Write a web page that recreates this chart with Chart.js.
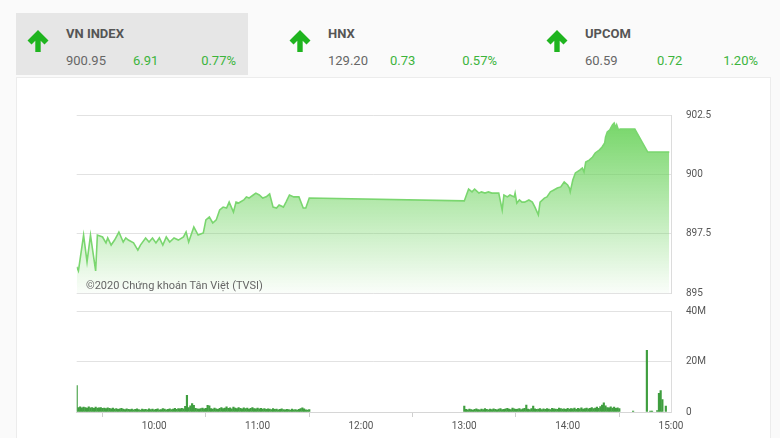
<!DOCTYPE html>
<html>
<head>
<meta charset="utf-8">
<script src="https://cdn.jsdelivr.net/npm/chart.js@4"></script>
<style>
  body { margin: 0; background: #fafafa; font-family: Roboto, "Noto Sans", sans-serif; }
  #wrap { position: relative; width: 780px; height: 438px; overflow: hidden; }
  .box { position: absolute; top: 13px; height: 62px; }
  .box.active { background: #e6e6e6; }
  .arrow { position: absolute; top: 29px; width: 24px; height: 24px; }
  .txt { position: absolute; font-size: 13px; line-height: 13px; white-space: nowrap; }
  .title { font-weight: bold; color: #555; top: 27px; }
  .num { color: #666; top: 54px; }
  .up { color: #3cb43c; top: 54px; }
  #panel { position: absolute; left: 16px; top: 77px; width: 753px; height: 370px; background: #fff; border: 1px solid #ececec; }
  canvas { position: absolute; left: 0; }
  #mark { position: absolute; left: 86px; top: 279px; font-size: 11px; line-height: 13px; color: #666; }
</style>
</head>
<body>
<div id="wrap">
  <div class="box active" style="left:16px;width:232px"></div>
  <div id="panel"></div>
  <div id="header"></div>
  <canvas id="indexChart" width="780" height="320" style="top:0"></canvas>
  <canvas id="volumeChart" width="780" height="148" style="top:290px"></canvas>
  <div id="mark">©2020 Chứng khoán Tân Việt (TVSI)</div>
</div>
<script>
// header quotes
const quoteNames = ['VN INDEX', 'HNX', 'UPCOM'];
const quoteLast = ['900.95', '129.20', '60.59'];
const quoteChange = ['6.91', '0.73', '0.72'];
const quotePct = ['0.77%', '0.57%', '1.20%'];

// index line (time, points)
const indexTimes = [
    '09:15', '09:16', '09:19', '09:21', '09:23', '09:26', '09:27', '09:30', '09:32', '09:33',
    '09:35', '09:37', '09:39:30', '09:42', '09:43:30', '09:45', '09:48', '09:50:30', '09:52', '09:55',
    '09:57', '09:59', '10:01', '10:03', '10:05', '10:07', '10:09', '10:11:30', '10:14', '10:17',
    '10:18:30', '10:20', '10:23', '10:25:30', '10:28:30', '10:30', '10:32', '10:34', '10:36', '10:38',
    '10:40', '10:42', '10:43:30', '10:46', '10:47:30', '10:49', '10:52', '10:53:30', '10:55', '10:57:30',
    '10:59', '11:01', '11:03', '11:05', '11:07', '11:09', '11:11', '11:12:30', '11:15', '11:16:30',
    '11:18:30', '11:21', '11:22:30', '11:24', '11:26:30', '11:28', '11:30',
    '13:00', '13:02:30', '13:04:30', '13:06', '13:08:30', '13:10', '13:12', '13:14', '13:16', '13:18',
    '13:20', '13:22', '13:23', '13:25', '13:26:30', '13:29', '13:29:30', '13:30:30', '13:32', '13:33:30',
    '13:35', '13:37:30', '13:39:30', '13:41', '13:43', '13:44', '13:46:30', '13:48', '13:50', '13:52',
    '13:54', '13:56', '13:58', '14:00', '14:01', '14:01:30', '14:03', '14:04:30', '14:07', '14:08:30',
    '14:09:30', '14:10:30', '14:12:30', '14:14:30', '14:16', '14:18:30', '14:20', '14:21:30', '14:22', '14:23',
    '14:24:30', '14:25', '14:26', '14:27', '14:28', '14:28:30', '14:29:30', '14:30:30', '14:39', '14:46:30',
    '14:59'
];
const indexValues = [
    896.10, 895.93, 897.44, 896.31, 897.44, 895.93, 897.44, 897.36, 897.11, 897.32,
    897.02, 897.23, 897.57, 897.15, 897.32, 897.23, 897.11, 896.81, 897.02, 897.32,
    897.15, 897.32, 897.11, 897.32, 897.02, 897.36, 897.15, 897.32, 897.23, 897.36,
    897.57, 897.15, 897.78, 897.44, 897.53, 898.08, 898.20, 897.95, 898.08, 898.50,
    898.62, 898.58, 898.83, 898.41, 898.83, 898.79, 898.92, 899.05, 899.00, 899.13,
    899.21, 899.13, 899.00, 899.05, 899.17, 898.62, 898.58, 898.71, 898.62, 898.83,
    899.13, 899.05, 899.05, 899.05, 898.58, 898.58, 899.00,
    898.88, 899.38, 899.26, 899.38, 899.21, 899.26, 899.21, 899.26, 899.21, 899.21,
    899.21, 898.50, 899.13, 899.05, 899.13, 899.05, 899.21, 898.79, 898.92, 898.83,
    898.83, 898.92, 898.83, 898.62, 898.29, 898.83, 899.00, 899.05, 899.26, 899.34,
    899.42, 899.47, 899.68, 899.55, 899.42, 899.26, 899.76, 900.06, 900.18, 900.27,
    900.10, 900.52, 900.60, 900.73, 900.90, 901.03, 901.15, 901.32, 901.57, 901.78,
    901.87, 901.95, 902.08, 902.16, 901.95, 902.08, 901.87, 901.91, 901.91, 900.94,
    900.94
];

// volume, millions per minute
const amStart = '09:15';
const amVolume = [
    10.5,
    1.8, 2.0, 1.7, 1.9, 1.8, 1.6, 2.0, 1.7, 1.8, 1.5, 1.9, 1.6, 1.7, 1.8, 1.5,
    1.6, 1.4, 1.7, 1.5, 1.3, 1.6, 1.2, 1.4, 1.1, 1.3, 1.5, 1.2, 1.0, 1.3, 1.1,
    1.0, 1.2, 0.9, 1.1, 1.3, 1.0, 0.8, 1.2, 1.0, 1.1, 0.9, 1.3, 1.0, 1.2, 0.9,
    1.1, 1.3, 0.9, 1.0, 1.4, 1.2, 0.9, 1.1, 1.3, 1.0, 1.2, 1.5, 1.1, 1.4, 1.3,
    1.5, 1.3, 2.2, 6.6, 1.8, 2.4, 3.3, 2.6, 1.5, 1.3, 1.2, 1.4, 1.6, 1.3, 1.5,
    2.6, 2.4, 1.4, 1.2, 1.6, 1.3, 1.1, 1.5, 1.8, 1.4, 1.6, 2.0, 1.5, 1.7, 1.3,
    1.9, 1.6, 1.4, 1.8, 1.5, 1.3, 1.7, 1.4, 1.6, 1.2, 1.5, 1.8, 1.4, 1.3, 1.6,
    1.3, 1.5, 1.2, 1.4, 1.1, 1.3, 1.2, 1.0, 1.4, 1.1, 1.2, 0.9, 1.1, 1.3, 1.0,
    0.9, 1.1, 1.0, 0.8, 1.2, 0.9, 1.0, 0.8, 1.1, 1.4, 1.7, 1.3, 0.9, 0.8, 1.0
];
const pmStart = '13:00';
const pmVolume = [
    2.3,
    1.1, 0.9, 1.2, 1.0, 0.8, 1.1, 1.3, 1.0, 0.9, 1.2, 1.0, 1.4, 1.1, 0.9, 1.2,
    1.0, 1.3, 1.1, 0.9, 1.2, 1.4, 1.0, 1.1, 1.3, 1.5, 1.2, 1.0, 1.6, 1.3, 1.1,
    1.2, 1.4, 1.0, 1.3, 1.5, 2.7, 1.2, 1.0, 1.4, 2.3, 1.3, 1.1, 1.2, 1.4, 1.0,
    1.3, 1.1, 1.4, 1.2, 1.0, 1.5, 1.3, 1.2, 1.1, 1.6, 1.4, 1.2, 1.3, 1.1, 1.5,
    1.2, 1.4, 1.3, 1.6, 1.1, 1.5, 1.3, 1.7, 1.2, 1.4, 1.6, 1.3, 1.5, 1.8, 1.4,
    1.6, 1.9, 1.5, 2.1, 2.7, 3.6, 2.4, 1.8, 1.7, 2.0, 1.6, 1.9, 1.5, 1.7, 1.4
];
const lateTimes = ['14:38', '14:46', '14:48', '14:49', '14:52', '14:53', '14:54', '14:55', '14:57'];
const lateVolume = [0.4, 24.4, 0.4, 0.4, 0.6, 7.4, 8.5, 4.9, 2.3];

const hourTicks = ['10:00', '11:00', '12:00', '13:00', '14:00', '15:00'];
const openTime = '09:15';
const closeTime = '15:00';

function toMin(t) {
    const p = t.split(':').map(Number);
    return p[0] * 60 + p[1] + (p[2] || 0) / 60;
}

function fmtTime(m) {
    return Math.floor(m / 60) + ':' + String(Math.round(m % 60)).padStart(2, '0');
}

// nudge layout padding until the plot area sits where we want it
function fitArea(chart, target) {
    for (let i = 0; i < 3; i++) {
        const a = chart.chartArea;
        const p = chart.options.layout.padding;
        p.top += target.top - a.top;
        p.bottom += a.bottom - target.bottom;
        p.left += target.left - a.left;
        p.right += a.right - target.right;
        chart.update('none');
    }
}

// header
const boxLeft = [16, 278, 535];
const header = document.getElementById('header');
quoteNames.forEach((name, i) => {
    const x = boxLeft[i];
    const chgX = [133, 390, 657][i];
    const pctRight = [544, 283, 22][i];
    header.insertAdjacentHTML('beforeend', `
        <svg class="arrow" style="left:${x + 10}px" viewBox="0 0 24 24">
          <path d="M12 1 L1.5 11.5 L5.5 15.5 L9.3 11.7 V23 H14.7 V11.7 L18.5 15.5 L22.5 11.5 Z" fill="#1fb41f"/>
        </svg>
        <div class="txt title" style="left:${x + 50}px">${name}</div>
        <div class="txt num" style="left:${x + 50}px">${quoteLast[i]}</div>
        <div class="txt up" style="left:${chgX}px">${quoteChange[i]}</div>
        <div class="txt up" style="right:${pctRight}px">${quotePct[i]}</div>`);
});

const tickFont = { family: 'Roboto', size: 10 };
const tickColor = '#555';
const gridColor = '#e2e2e2';
const axisWidth = 109;

const sharedX = {
    type: 'linear',
    min: toMin(openTime),
    max: toMin(closeTime),
    afterBuildTicks: s => { s.ticks = hourTicks.map(t => ({ value: toMin(t) })); }
};

// index chart
const indexPoints = indexTimes.map((t, i) => ({ x: toMin(t), y: indexValues[i] }));

const indexChart = new Chart(document.getElementById('indexChart').getContext('2d'), {
    type: 'line',
    data: {
        datasets: [{
            data: indexPoints,
            borderColor: '#7ad66f',
            borderWidth: 1.6,
            pointRadius: 0,
            tension: 0,
            fill: 'start',
            backgroundColor: (ctx) => {
                const area = ctx.chart.chartArea;
                if (!area) return 'rgba(110,210,95,0.4)';
                const g = ctx.chart.ctx.createLinearGradient(0, area.top, 0, area.bottom);
                g.addColorStop(0, 'rgba(105,210,90,0.95)');
                g.addColorStop(1, 'rgba(105,210,90,0.03)');
                return g;
            }
        }]
    },
    options: {
        responsive: false,
        animation: false,
        layout: { padding: { left: 77, top: 115, bottom: 27, right: 0 } },
        plugins: { legend: { display: false }, tooltip: { enabled: false } },
        scales: {
            x: Object.assign({}, sharedX, { display: false }),
            y: {
                position: 'right',
                min: 895,
                max: 902.5,
                afterFit: s => { s.width = axisWidth; },
                ticks: { stepSize: 2.5, color: tickColor, font: tickFont, padding: 15 },
                grid: { color: gridColor, drawTicks: false },
                border: { display: true, color: '#dcdcdc' }
            }
        }
    }
});
fitArea(indexChart, { top: 115, bottom: 293, left: 76.7, right: 671 });

// volume chart
const volumePoints = [];
amVolume.forEach((v, i) => volumePoints.push({ x: toMin(amStart) + i, y: v }));
pmVolume.forEach((v, i) => volumePoints.push({ x: toMin(pmStart) + i, y: v }));
lateTimes.forEach((t, i) => volumePoints.push({ x: toMin(t), y: lateVolume[i] }));

const volumeChart = new Chart(document.getElementById('volumeChart').getContext('2d'), {
    type: 'bar',
    data: {
        datasets: [{
            data: volumePoints,
            backgroundColor: '#3f9e3f',
            barThickness: 1.5
        }]
    },
    options: {
        responsive: false,
        animation: false,
        layout: { padding: { left: 77, top: 18, bottom: 0, right: 0 } },
        plugins: { legend: { display: false }, tooltip: { enabled: false } },
        scales: {
            x: Object.assign({}, sharedX, {
                offset: false,
                afterFit: s => { s.height = 26; },
                ticks: { color: tickColor, font: tickFont, padding: 3, maxRotation: 0, callback: v => fmtTime(v) },
                grid: { drawOnChartArea: false, drawTicks: true, tickLength: 5, color: '#cfcfcf' },
                border: { display: true, color: '#d6d6d6' }
            }),
            y: {
                position: 'right',
                min: 0,
                max: 40,
                afterFit: s => { s.width = axisWidth; },
                ticks: { stepSize: 20, color: tickColor, font: tickFont, padding: 15, callback: v => v ? v + 'M' : '0' },
                grid: { color: gridColor, drawTicks: false },
                border: { display: true, color: '#dcdcdc' }
            }
        }
    }
});
fitArea(volumeChart, { top: 18, bottom: 122, left: 76.7, right: 671 });
</script>
</body>
</html>
